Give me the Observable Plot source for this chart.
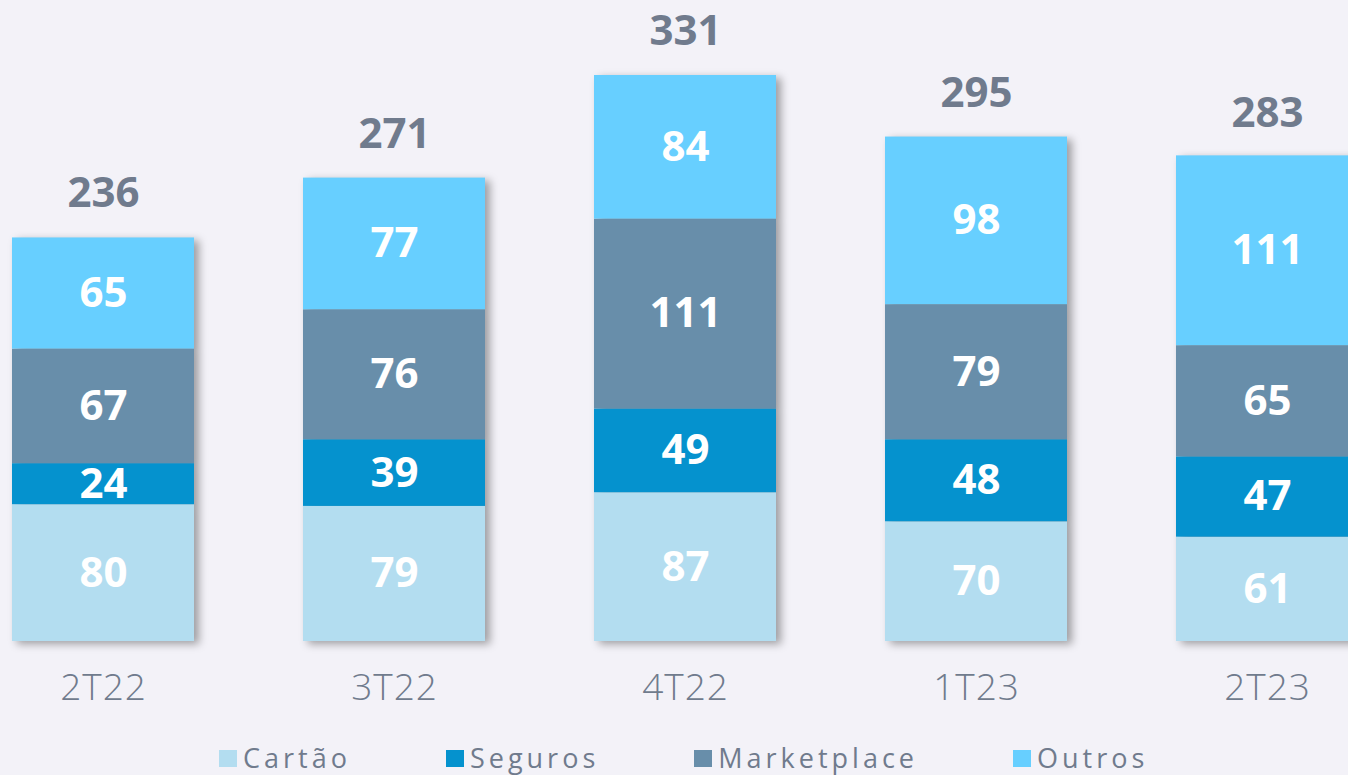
<!DOCTYPE html>
<html><head><meta charset="utf-8">
<script src="https://cdn.jsdelivr.net/npm/d3@7"></script>
<script src="https://cdn.jsdelivr.net/npm/@observablehq/plot@0.6"></script>
<style>
html,body{margin:0;padding:0;background:#f3f2f8;overflow:hidden;width:1348px;height:775px}
#chart svg{display:block;overflow:hidden}
.legend{display:flex;align-items:center;gap:95px;padding-left:219px;height:42px;margin-top:3px;font-family:"Open Sans",sans-serif;font-size:27px;letter-spacing:4px;color:#707b8d;white-space:nowrap}
.item{display:flex;align-items:center}
.sw{width:18px;height:17px;margin-right:6px;margin-top:2px}
</style></head>
<body>
<div id="chart"></div>
<div class="legend" id="legend"></div>
<script>
const quarters = ["2T22", "3T22", "4T22", "1T23", "2T23"];
const categories = ["Cartão", "Seguros", "Marketplace", "Outros"];
const cartao = [80, 79, 87, 70, 61];
const seguros = [24, 39, 49, 48, 47];
const marketplace = [67, 76, 111, 79, 65];
const outros = [65, 77, 84, 98, 111];
const totals = [236, 271, 331, 295, 283];
const colors = ["#b3ddf0", "#0592ce", "#688eaa", "#67cfff"];

const series = [cartao, seguros, marketplace, outros];
const rows = [];
quarters.forEach((q, i) => {
  categories.forEach((c, j) => rows.push({q, cat: c, v: series[j][i]}));
});
const totalRows = quarters.map((q, i) => ({q, t: totals[i]}));

const plot = Plot.plot({
  width: 1348,
  height: 733,
  marginTop: 0, marginRight: 0, marginLeft: 0, marginBottom: 92,
  style: {background: "transparent", fontFamily: "Open Sans, sans-serif"},
  x: {domain: quarters, range: [12, 1358], paddingInner: 0.3746, paddingOuter: 0, axis: null, label: null},
  y: {domain: [0, 331], range: [641, 75], axis: null},
  color: {domain: categories, range: colors},
  marks: [
    Plot.barY(rows, {x: "q", y: "v", fill: "cat", inset: 0}),
    Plot.text(rows, Plot.stackY({x: "q", y: "v", text: d => String(d.v), fill: "white", fontSize: 42, fontWeight: 700, lineAnchor: "middle"})),
    Plot.text(totalRows, {x: "q", y: "t", text: d => String(d.t), fill: "#707b8d", fontSize: 42, fontWeight: 700, dy: -44, lineAnchor: "middle"}),
    Plot.axisX({tickSize: 0, tickPadding: 32, fontSize: 37, fill: "#707b8d", fontWeight: 300, label: null})
  ]
});
document.getElementById("chart").appendChild(plot);
const barG = plot.querySelector('g[aria-label="bar"]');
if (barG) barG.style.filter = "drop-shadow(5px 3px 4px rgba(0,0,0,0.35))";
plot.querySelectorAll('g[aria-label="x-axis tick label"] text, g[aria-label="x-axis tick label"]').forEach(e => { e.style.fontWeight = 300; e.style.letterSpacing = "1px"; });

const legend = document.getElementById("legend");
categories.forEach((c, j) => {
  const item = document.createElement("div");
  item.className = "item";
  const sw = document.createElement("span");
  sw.className = "sw";
  sw.style.background = colors[j];
  const t = document.createElement("span");
  t.textContent = c;
  item.appendChild(sw); item.appendChild(t);
  legend.appendChild(item);
});
</script>
</body></html>
